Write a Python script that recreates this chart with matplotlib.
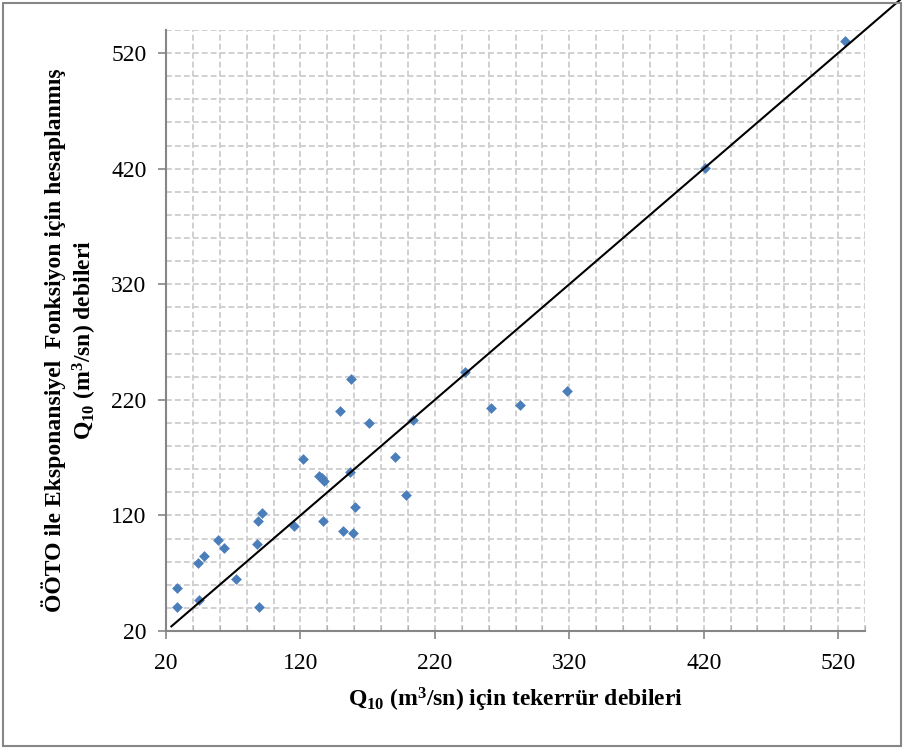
import matplotlib
matplotlib.use("Agg")
import matplotlib.pyplot as plt
from matplotlib.patches import Rectangle
from matplotlib.ticker import MultipleLocator

plt.rcParams['font.family'] = ['Liberation Serif', 'DejaVu Serif']
plt.rcParams['mathtext.fontset'] = 'custom'
plt.rcParams['mathtext.rm'] = 'Liberation Serif:bold'
plt.rcParams['mathtext.bf'] = 'Liberation Serif:bold'

# Observed Q10 (x) vs computed Q10 (y)
q_observed = [28.4, 28.4, 44.1, 48.4, 44.4, 59.0, 63.3, 72.0, 87.7, 88.1, 91.6, 89.2,
              115.5, 122.0, 133.7, 136.2, 137.9, 136.9, 149.3, 151.6, 157.5, 156.8,
              158.8, 160.5, 171.2, 190.6, 198.4, 203.8, 242.6, 261.8, 283.7, 318.0,
              421.0, 525.4]
q_computed = [57.6, 40.6, 79.0, 85.3, 47.2, 99.1, 91.9, 65.4, 95.4, 115.5, 122.1, 40.6,
              111.2, 169.1, 154.4, 152.4, 149.5, 114.9, 210.6, 106.9, 238.3, 157.3,
              104.5, 127.0, 199.8, 170.2, 137.7, 202.8, 244.5, 212.9, 215.5, 227.3,
              420.3, 530.6]
line_x = [24, 567]
line_y = [24, 567]
ticks = [20, 120, 220, 320, 420, 520]

fig = plt.figure(figsize=(9.04, 7.49), dpi=100)
W, H = 904, 749
ax = fig.add_axes([166 / W, 1 - 631 / H, (865 - 166) / W, (631 - 30) / H])

ax.set_xlim(20, 540)
ax.set_ylim(20, 540)
ax.xaxis.set_minor_locator(MultipleLocator(20))
ax.yaxis.set_minor_locator(MultipleLocator(20))
ax.set_xticks(ticks)
ax.set_yticks(ticks)

grid_kw = dict(color='#D0D0D0', linestyle=(0, (3, 1.6)), linewidth=1.4)
ax.grid(True, which='both', **grid_kw)
ax.set_axisbelow(True)

for s in ['top', 'right']:
    ax.spines[s].set_visible(False)
for s in ['left', 'bottom']:
    ax.spines[s].set_color('#868686')
    ax.spines[s].set_linewidth(1.5)

ax.tick_params(axis='both', which='major', direction='out', length=6, width=1.2,
               color='#868686', labelsize=17)
ax.tick_params(axis='y', which='major', pad=8)
ax.tick_params(axis='x', which='major', pad=10)
ax.tick_params(axis='x', which='minor', direction='in', length=4, width=0.8, color='#B0B0B0')
ax.tick_params(axis='y', which='minor', length=0)

ax.scatter(q_observed, q_computed, marker='D', s=30, color='#4A7EBB', zorder=3, linewidths=0)
ax.plot(line_x, line_y, color='black', linewidth=1.5, clip_on=False, zorder=4)

fig.text(516 / W, 1 - 700 / H,
         r'Q$\mathregular{_{10}}$ (m$\mathregular{^3}$/sn) için tekerrür debileri',
         fontsize=17, fontweight='bold', ha='center', va='center')
fig.text(70 / W, 1 - 340 / H,
         'ÖÖTO ile Eksponansiyel  Fonksiyon için hesaplanmış\n'
         r'Q$\mathregular{_{10}}$ (m$\mathregular{^3}$/sn) debileri',
         fontsize=17, fontweight='bold', ha='center', va='center', rotation=90,
         multialignment='center', linespacing=1.2)

fig.add_artist(Rectangle((3 / W, 3 / H), (W - 6) / W, (H - 6) / H, transform=fig.transFigure,
                         fill=False, edgecolor='#868686', linewidth=1.5))

fig.savefig('out.png', dpi=100)
